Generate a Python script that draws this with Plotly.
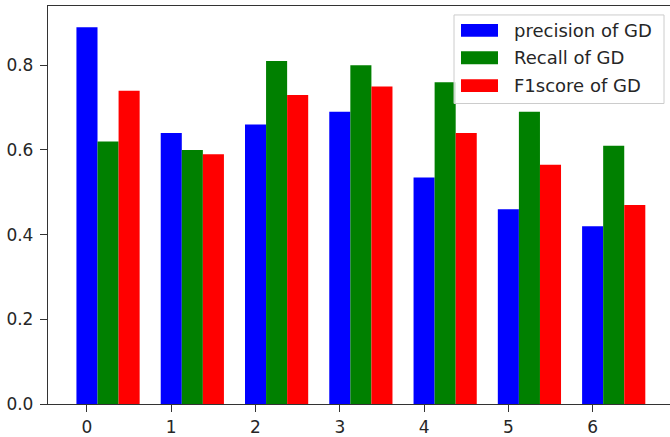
import plotly.graph_objects as go

categories = [0, 1, 2, 3, 4, 5, 6]
precision = [0.89, 0.64, 0.66, 0.69, 0.535, 0.46, 0.42]
recall = [0.62, 0.60, 0.81, 0.80, 0.76, 0.69, 0.61]
f1score = [0.74, 0.59, 0.73, 0.75, 0.64, 0.565, 0.47]
series_names = ["precision of GD", "Recall of GD", "F1score of GD"]
colors = ["#0000ff", "#008000", "#ff0000"]
y_ticks = [0.0, 0.2, 0.4, 0.6, 0.8]

W, H = 670, 437
ML, MR, MT, MB = 48, 0, 6, 31
PW, PH = W - ML - MR, H - MT - MB


def px(x):
    return (x - ML) / PW


def py(y):
    return (H - MB - y) / PH


bar_w = 0.25
fig = go.Figure()
for i, (name, vals, col) in enumerate(zip(series_names, [precision, recall, f1score], colors)):
    fig.add_trace(go.Bar(
        x=categories, y=vals, name=name,
        width=bar_w, offset=-bar_w / 2 + i * bar_w,
        marker=dict(color=col, line=dict(width=0)),
        showlegend=False,
    ))

# legend drawn in matplotlib style (wide colour patches)
shapes = [dict(
    type="rect", xref="paper", yref="paper", layer="above",
    x0=px(454), x1=px(664), y0=py(104), y1=py(15),
    line=dict(color="#cccccc", width=1), fillcolor="rgba(255,255,255,0.8)",
)]
annotations = []
row_centers = [30.5, 58, 86]
for name, col, yc in zip(series_names, colors, row_centers):
    shapes.append(dict(
        type="rect", xref="paper", yref="paper", layer="above",
        x0=px(461), x1=px(498), y0=py(yc + 6.5), y1=py(yc - 6.5),
        line=dict(width=0), fillcolor=col,
    ))
    annotations.append(dict(
        xref="paper", yref="paper", x=px(512), y=py(yc),
        xanchor="left", yanchor="middle", showarrow=False, text=name,
        font=dict(family="DejaVu Sans", size=18, color="#262626"),
    ))

axis_col = "#333333"
tick_font = dict(family="DejaVu Sans", size=17, color="#262626")

fig.update_layout(
    width=W, height=H,
    margin=dict(l=ML, r=MR, t=MT, b=MB),
    paper_bgcolor="white", plot_bgcolor="white",
    barmode="overlay",
    showlegend=False,
    shapes=shapes, annotations=annotations,
    xaxis=dict(
        range=[-0.4625, 6.918], tickmode="array", tickvals=categories,
        ticktext=[str(c) for c in categories],
        showgrid=False, zeroline=False,
        showline=True, linecolor=axis_col, linewidth=1.3, mirror=True,
        ticks="outside", ticklen=7, tickcolor=axis_col, tickwidth=1.2,
        tickfont=tick_font,
    ),
    yaxis=dict(
        range=[0, 0.94], tickmode="array", tickvals=y_ticks,
        ticktext=[f"{v:.1f}" for v in y_ticks],
        showgrid=False, zeroline=False,
        showline=True, linecolor=axis_col, linewidth=1.3, mirror=False,
        ticks="outside", ticklen=7, tickcolor=axis_col, tickwidth=1.2,
        tickfont=tick_font, ticklabelstandoff=3,
    ),
)

fig.write_html("out.html", config={"displayModeBar": False},
               post_script="document.body.style.margin='0';")
